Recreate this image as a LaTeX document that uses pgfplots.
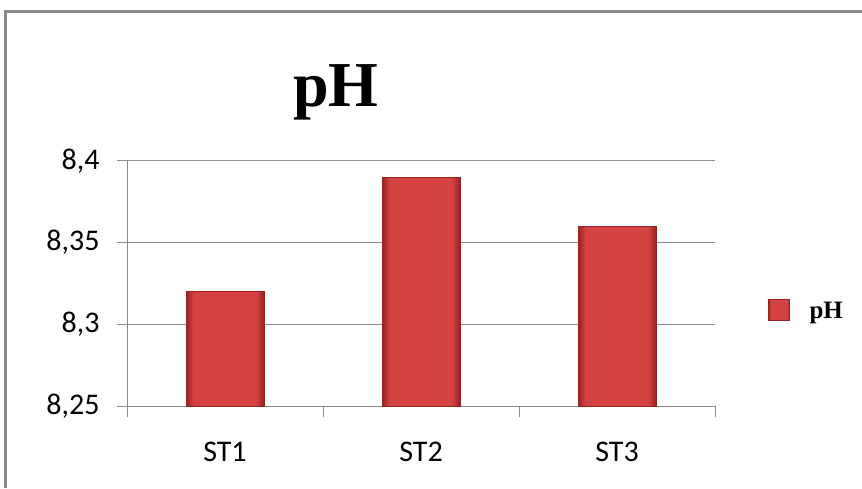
\documentclass[border=0pt]{standalone}
\usepackage{fontspec}
\setmainfont{Carlito}
\newfontfamily\tnr{Liberation Serif}
\usepackage{pgfplots}
\pgfplotsset{compat=1.18}
\definecolor{barmid}{RGB}{212,66,66}
\definecolor{baredge}{RGB}{150,34,34}
\definecolor{gridgray}{RGB}{140,140,140}
\definecolor{framegray}{RGB}{136,136,136}
\pgfdeclarehorizontalshading{barshade}{100bp}{color(0bp)=(baredge); color(25bp)=(baredge); color(30bp)=(barmid); color(70bp)=(barmid); color(75bp)=(baredge); color(100bp)=(baredge)}
\begin{document}
\begin{tikzpicture}[x=1pt,y=1pt]
\path[use as bounding box] (0,0) rectangle (862,488);
\draw[line width=3pt, framegray] (5,0) -- (5,476) -- (862,476);
\node[font=\tnr\bfseries\fontsize{64}{70}\selectfont, anchor=base] at (336,381) {pH};
\begin{axis}[
  at={(127pt,82pt)}, anchor=south west,
  scale only axis, width=588pt, height=245pt,
  xmin=-0.5, xmax=2.5, ymin=8.25, ymax=8.4,
  axis x line*=bottom, axis y line*=left,
  axis line style={gridgray, line width=1pt, -},
  ymajorgrids, grid style={gridgray, line width=1pt},
  ytick={8.25,8.3,8.35,8.4},
  yticklabels={{8,25},{8,3},{8,35},{8,4}},
  xtick={0,1,2}, xticklabels={ST1,ST2,ST3},
  minor xtick={-0.5,0.5,1.5,2.5},
  tick align=outside,
  major tick length=10pt, minor tick length=11pt,
  major x tick style={draw=none},
  tick style={gridgray, line width=1pt},
  ticklabel style={font=\fontsize{30}{34}\selectfont},
  xticklabel style={yshift=-22pt},
  yticklabel style={xshift=-14pt},
  clip=false,
  legend style={at={(1.085,0.39)}, anchor=west, draw=none, fill=none,
    font=\tnr\bfseries\fontsize{25}{28}\selectfont,
    /tikz/every odd column/.append style={column sep=18pt}},
  legend image code/.code={\fill[shading=barshade, draw=baredge] (0pt,-10pt) rectangle (21pt,11pt);},
]
\addplot[ybar, bar width=78pt, bar shift=0pt, draw=baredge, shading=barshade] coordinates {(0,8.32)};
\addlegendentry{pH}
\addplot[ybar, bar width=78pt, bar shift=0pt, draw=baredge, shading=barshade, forget plot] coordinates {(1,8.39)};
\addplot[ybar, bar width=78pt, bar shift=0pt, draw=baredge, shading=barshade, forget plot] coordinates {(2,8.36)};
\end{axis}
\end{tikzpicture}
\end{document}
